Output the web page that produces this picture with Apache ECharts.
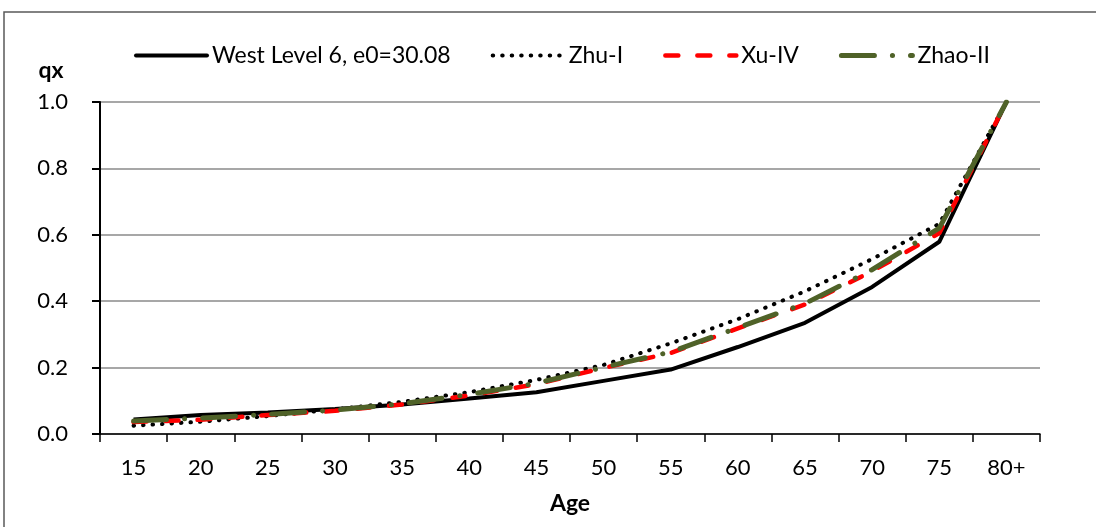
<!DOCTYPE html>
<html>
<head>
<meta charset="utf-8">
<script src="https://cdn.jsdelivr.net/npm/echarts@6/dist/echarts.min.js"></script>
<style>
    html, body { margin: 0; padding: 0; background: #fff; }
    #chart { width: 1096px; height: 527px; }
</style>
</head>
<body>
<div id="chart"></div>
<script>
/* 年龄组和各模型的qx */
var ages = ['15', '20', '25', '30', '35', '40', '45', '50', '55', '60', '65', '70', '75', '80+'];
var westLevel6 = [0.044, 0.057, 0.065, 0.075, 0.089, 0.107, 0.126, 0.160, 0.194, 0.262, 0.335, 0.443, 0.579, 1.0];
var zhuI = [0.025, 0.037, 0.054, 0.074, 0.097, 0.126, 0.163, 0.208, 0.273, 0.346, 0.430, 0.527, 0.633, 1.0];
var xuIV = [0.036, 0.043, 0.057, 0.070, 0.089, 0.116, 0.150, 0.199, 0.244, 0.318, 0.390, 0.490, 0.605, 1.0];
var zhaoII = [0.039, 0.048, 0.059, 0.072, 0.091, 0.119, 0.153, 0.201, 0.247, 0.320, 0.393, 0.495, 0.620, 1.0];
var yTicks = [0, 0.2, 0.4, 0.6, 0.8, 1.0];

var font = 'Lato';
var chart = echarts.init(document.getElementById('chart'));

function lineSeries(name, data, lineStyle) {
    return {
        name: name,
        type: 'line',
        data: data,
        symbol: 'none',
        smooth: false,
        animation: false,
        itemStyle: { color: lineStyle.color },
        lineStyle: lineStyle,
        z: 3
    };
}

var option = {
    backgroundColor: '#fff',
    graphic: [{
        type: 'rect',
        shape: { x: 4, y: 12, width: 1200, height: 700 },
        style: { fill: 'none', stroke: '#595959', lineWidth: 1.5 },
        silent: true
    }],
    legend: {
        left: 129,
        top: 39,
        itemWidth: 71,
        itemHeight: 14,
        itemGap: 40,
        itemStyle: { opacity: 0 },
        lineStyle: { width: 'inherit', type: 'inherit', cap: 'round' },
        textStyle: { fontFamily: font, fontSize: 23, color: '#000' },
        data: ['West Level 6, e0=30.08', 'Zhu-I', 'Xu-IV', 'Zhao-II']
    },
    grid: { left: 100, right: 56, top: 102, bottom: 93 },
    xAxis: {
        type: 'category',
        data: ages,
        boundaryGap: true,
        name: 'Age',
        nameLocation: 'middle',
        nameGap: 58,
        nameTextStyle: { fontFamily: font, fontSize: 23, fontWeight: 'bold', color: '#000' },
        axisLine: { lineStyle: { color: '#000', width: 1.5 } },
        axisTick: { show: true, interval: 0, length: 8, lineStyle: { color: '#000', width: 1.5 } },
        axisLabel: { interval: 0, margin: 23, fontFamily: font, fontSize: 22, color: '#000' },
        splitLine: { show: false }
    },
    yAxis: {
        type: 'value',
        min: 0,
        max: 1,
        interval: 0.2,
        name: 'qx',
        nameLocation: 'end',
        nameGap: 20,
        nameTextStyle: { fontFamily: font, fontSize: 23, fontWeight: 'bold', color: '#000', padding: [0, 98, 0, 0] },
        axisLine: { show: true, lineStyle: { color: '#000', width: 2 } },
        axisTick: { show: true, length: 8, lineStyle: { color: '#000', width: 2 } },
        axisLabel: {
            margin: 32,
            fontFamily: font,
            fontSize: 22,
            color: '#000',
            formatter: function (v) { return v.toFixed(1); }
        },
        splitLine: { show: true, lineStyle: { color: '#8a8a8a', width: 1.5 } }
    },
    series: [
        lineSeries('West Level 6, e0=30.08', westLevel6, { color: '#000', width: 4, type: 'solid' }),
        lineSeries('Zhu-I', zhuI, { color: '#000', width: 4, type: [0.5, 9], cap: 'round' }),
        lineSeries('Xu-IV', xuIV, { color: '#ff0000', width: 4.5, type: [13, 19], cap: 'round' }),
        lineSeries('Zhao-II', zhaoII, { color: '#4f6228', width: 5, type: [33, 18, 0.1, 18], cap: 'round' })
    ]
};
chart.setOption(option);
</script>
</body>
</html>
